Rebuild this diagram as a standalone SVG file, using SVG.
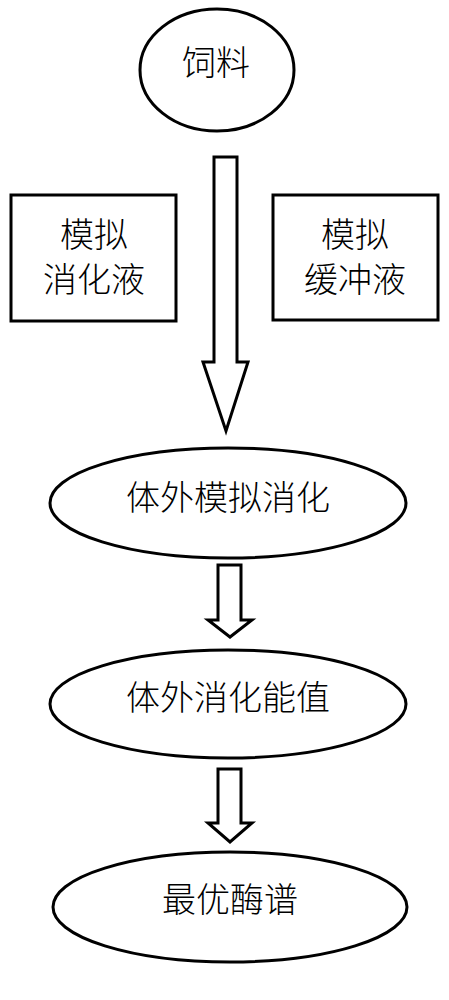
<svg xmlns="http://www.w3.org/2000/svg" width="449" height="1000" viewBox="0 0 449 1000">
<style>
.s{fill:#fff;stroke:#000;stroke-width:3}
.t{font-family:"Noto Sans CJK SC","Noto Sans",sans-serif;font-size:34px;font-weight:300;fill:#000;text-anchor:middle;dominant-baseline:central}
</style>
<rect width="449" height="1000" fill="#fff"/>
<g id="feed"><ellipse class="s" cx="217" cy="70" rx="77" ry="61"/><text class="t" x="216" y="60">饲料</text></g>
<g id="digest-fluid"><rect class="s" x="11" y="195" width="165" height="126"/><text class="t" x="94" y="232">模拟</text><text class="t" x="94" y="277">消化液</text></g>
<g id="buffer"><rect class="s" x="273" y="195" width="165" height="125"/><text class="t" x="355" y="232">模拟</text><text class="t" x="355" y="277">缓冲液</text></g>
<g id="invitro"><ellipse class="s" cx="228" cy="503" rx="178" ry="55"/><text class="t" x="228" y="495">体外模拟消化</text></g>
<g id="energy"><ellipse class="s" cx="228" cy="704" rx="178" ry="54"/><text class="t" x="228" y="695">体外消化能值</text></g>
<g id="enzyme"><ellipse class="s" cx="230" cy="907" rx="177" ry="55"/><text class="t" x="230" y="897">最优酶谱</text></g>
<g id="connectors">
<polygon class="s" points="214,157 237,157 237,362 248,362 226,431 203,362 214,362"/>
<polygon class="s" points="218,565 241,565 241,620 252,620 230,637 208,620 218,620"/>
<polygon class="s" points="218,769 241,769 241,823 252,823 230,842 208,823 218,823"/>
</g>
</svg>
